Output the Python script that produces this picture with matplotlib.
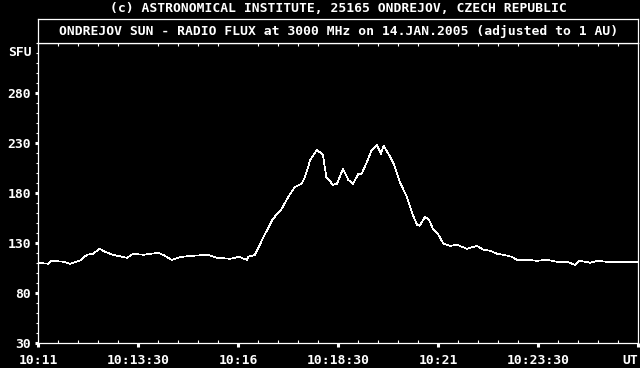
import matplotlib
matplotlib.use("Agg")
import matplotlib.pyplot as plt
from matplotlib.ticker import MultipleLocator, FixedLocator

# seconds after 10:11:00 UT and flux in SFU
secs = [0, 15, 20, 38, 48, 62, 73, 82, 92, 100, 112, 133, 142, 158, 180, 190,
        200, 215, 232, 255, 268, 288, 302, 308, 313, 315, 325, 338, 352, 365,
        375, 385, 395, 400, 408, 418, 427, 432, 442, 448, 457, 465, 472, 480,
        485, 493, 500, 508, 514, 518, 528, 535, 542, 553, 560, 568, 572, 580,
        586, 592, 600, 608, 618, 628, 643, 658, 668, 678, 688, 698, 710, 718,
        733, 748, 763, 778, 793, 805, 812, 828, 838, 853, 872, 900]
flux = [110, 109, 112, 111, 109, 112, 118, 119, 124, 121, 118, 115, 119, 118, 120, 117,
        113, 116, 117, 118, 115, 114, 116, 114, 113, 116, 118, 136, 154, 164,
        176, 186, 189, 196, 213, 223, 218, 196, 188, 189, 204, 193, 189, 199,
        199, 211, 223, 228, 219, 227, 216, 206, 191, 176, 161, 148, 147, 156,
        153, 144, 138, 129, 127, 128, 124, 127, 123, 122, 119, 118, 116, 113,
        113, 112, 113, 111, 111, 108, 112, 110, 112, 111, 111, 111]

xtick_pos = [0, 150, 300, 450, 600, 750, 900]
xtick_lab = ["10:11", "10:13:30", "10:16", "10:18:30", "10:21", "10:23:30", "UT"]
ytick_pos = [30, 80, 130, 180, 230, 280]

title = "ONDREJOV SUN - RADIO FLUX at 3000 MHz on 14.JAN.2005 (adjusted to 1 AU)"
copyright = "(c) ASTRONOMICAL INSTITUTE, 25165 ONDREJOV, CZECH REPUBLIC"

FONT = dict(family="DejaVu Sans Mono", weight="bold", size=9.4, color="white")
W, H = 640, 368

fig = plt.figure(figsize=(6.4, 3.68), dpi=100, facecolor="black")
left, right, bottom, top, box_top = 38.3, 638.3, 342.7, 43.0, 19.3

ax = fig.add_axes([left / W, 1 - bottom / H, (right - left) / W, (bottom - top) / H])
ax.set_facecolor("black")
ax.plot(secs, flux, color="white", lw=0.5, antialiased=False)
ax.set_xlim(0, 900)
ax.set_ylim(30, 330)
for s in ax.spines.values():
    s.set_color("white")
    s.set_linewidth(0.9)

ax.xaxis.set_major_locator(FixedLocator(xtick_pos))
ax.set_xticklabels(xtick_lab, fontdict=FONT)
ax.get_xticklabels()[-1].set_horizontalalignment("right")
ax.xaxis.set_minor_locator(MultipleLocator(30))
ax.tick_params(axis="x", which="major", direction="out", length=3, width=2.2,
               color="white", pad=5)
ax.tick_params(axis="x", which="minor", direction="in", length=2, width=0.8,
               color="white", top=True)

ax.yaxis.set_major_locator(FixedLocator(ytick_pos))
ax.set_yticklabels([str(v) for v in ytick_pos], fontdict=FONT)
ax.yaxis.set_minor_locator(MultipleLocator(10))
ax.tick_params(axis="y", which="major", direction="out", length=2, width=2.2,
               color="white", pad=3)
ax.tick_params(axis="y", which="minor", direction="out", length=1.5, width=0.8,
               color="white")
ax.text(-9.75, 320, "SFU", ha="right", va="center", **FONT)

tbox = fig.add_axes([left / W, 1 - top / H, (right - left) / W, (top - box_top) / H])
tbox.set_facecolor("black")
tbox.set_xticks([])
tbox.set_yticks([])
for s in tbox.spines.values():
    s.set_color("white")
    s.set_linewidth(0.9)
tbox.text(0.5, 0.5, title, ha="center", va="center", transform=tbox.transAxes, **FONT)

fig.text((left + right) / 2 / W, 1 - 8.5 / H, copyright, ha="center", va="center", **FONT)

fig.savefig("out.png", dpi=100, facecolor="black")
